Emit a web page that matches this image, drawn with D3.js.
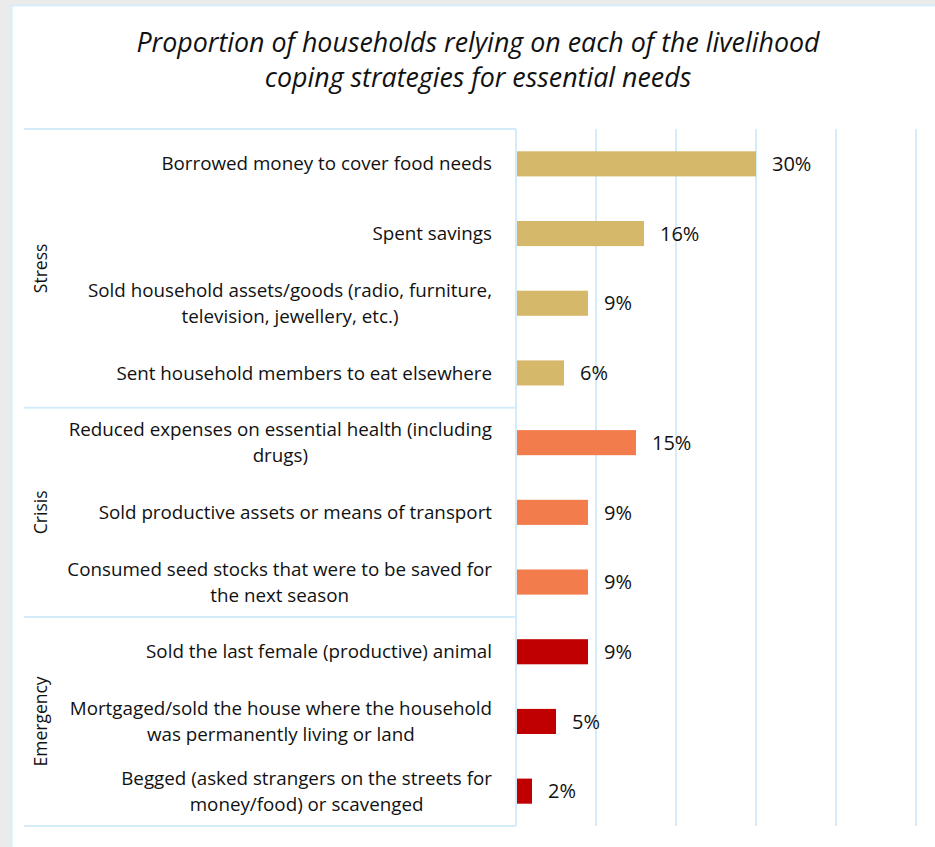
<!DOCTYPE html>
<html>
<head>
<meta charset="utf-8">
<script src="https://cdn.jsdelivr.net/npm/d3@7"></script>
<style>
  html, body { margin: 0; padding: 0; background: #ebebeb; }
  svg { display: block; }
</style>
</head>
<body>
<svg id="chart" width="935" height="847"></svg>
<script>
// Coping strategies, grouped by severity, with the share of households using each
const groups = ["Stress", "Crisis", "Emergency"];
const strategyLines = [
  ["Borrowed money to cover food needs"],
  ["Spent savings"],
  ["Sold household assets/goods (radio, furniture,", "television, jewellery, etc.)"],
  ["Sent household members to eat elsewhere"],
  ["Reduced expenses on essential health (including", "drugs)"],
  ["Sold productive assets or means of transport"],
  ["Consumed seed stocks that were to be saved for", "the next season"],
  ["Sold the last female (productive) animal"],
  ["Mortgaged/sold the house where the household", "was permanently living or land"],
  ["Begged (asked strangers on the streets for", "money/food) or scavenged"]
];
const strategyGroup = ["Stress", "Stress", "Stress", "Stress", "Crisis", "Crisis", "Crisis", "Emergency", "Emergency", "Emergency"];
const shares = [30, 16, 9, 6, 15, 9, 9, 9, 5, 2];
const xTicks = [0, 10, 20, 30, 40, 50];
const groupColors = ["#d5b869", "#f27c4b", "#c00000"];

const svg = d3.select("#chart");
const font = "'Open Sans', sans-serif";

// panel
svg.append("rect")
  .attr("x", 11.5).attr("y", 5.5).attr("width", 935).attr("height", 860)
  .attr("fill", "#ffffff").attr("stroke", "#d6effc").attr("stroke-width", 2);

// title
const title = svg.append("text")
  .attr("text-anchor", "middle")
  .attr("font-family", font).attr("font-style", "italic")
  .attr("font-size", 26.8).attr("fill", "#111");
title.append("tspan").attr("x", 478).attr("y", 52).text("Proportion of households relying on each of the livelihood");
title.append("tspan").attr("x", 478).attr("y", 87).text("coping strategies for essential needs");

const ids = d3.range(shares.length);
const x = d3.scaleLinear().domain([0, 50]).range([516, 916]);
const y = d3.scaleBand().domain(ids).range([129, 826]).paddingInner(0.64).paddingOuter(0.32);
const color = d3.scaleOrdinal().domain(groups).range(groupColors);
const gridColor = "#d4ecfa";

// vertical gridlines
svg.append("g")
  .selectAll("line").data(xTicks).join("line")
  .attr("x1", d => x(d)).attr("x2", d => x(d))
  .attr("y1", 129).attr("y2", 826)
  .attr("stroke", gridColor).attr("stroke-width", 2);

// group separators of the category table
const groupBounds = [0];
groups.forEach(g => groupBounds.push(groupBounds[groupBounds.length - 1] + strategyGroup.filter(s => s === g).length));
const yEdge = i => 129 + i * y.step();
svg.append("g")
  .selectAll("line").data(groupBounds).join("line")
  .attr("x1", 24).attr("x2", x(0))
  .attr("y1", d => yEdge(d)).attr("y2", d => yEdge(d))
  .attr("stroke", gridColor).attr("stroke-width", 2);

// bars
svg.append("g")
  .selectAll("rect").data(ids).join("rect")
  .attr("x", x(0) + 1)
  .attr("y", i => y(i))
  .attr("width", i => x(shares[i]) - x(0) - 1)
  .attr("height", y.bandwidth())
  .attr("fill", i => color(strategyGroup[i]));

// value labels
svg.append("g")
  .selectAll("text").data(ids).join("text")
  .attr("x", i => x(shares[i]) + 16)
  .attr("y", i => y(i) + y.bandwidth() / 2)
  .attr("dy", "0.36em")
  .attr("font-family", font).attr("font-size", 20).attr("fill", "#111")
  .text(i => shares[i] + "%");

// category labels, multi-line ones centred on their own block
const lineH = 26;
const labels = svg.append("g")
  .selectAll("text").data(ids).join("text")
  .attr("font-family", font).attr("font-size", 18.8).attr("fill", "#111");
labels.each(function (i) {
  const t = d3.select(this);
  const lines = strategyLines[i];
  const cy = y(i) + y.bandwidth() / 2;
  const y0 = cy - (lines.length - 1) * lineH / 2;
  lines.forEach((ln, k) => {
    t.append("tspan").attr("y", y0 + k * lineH).attr("dy", "0.35em").text(ln);
  });
});
labels.each(function (i) {
  const spans = d3.select(this).selectAll("tspan");
  const widths = spans.nodes().map(n => n.getComputedTextLength());
  const w = d3.max(widths);
  const right = 492;
  const center = right - w / 2;
  spans.attr("x", center).attr("text-anchor", "middle");
});

// group labels, rotated
svg.append("g")
  .selectAll("text").data(groups).join("text")
  .attr("transform", (g, k) => {
    const cy = (yEdge(groupBounds[k]) + yEdge(groupBounds[k + 1])) / 2;
    return `translate(41,${cy}) rotate(-90)`;
  })
  .attr("text-anchor", "middle").attr("dy", "0.35em")
  .attr("font-family", font).attr("font-size", 17.5).attr("fill", "#111")
  .text(g => g);
</script>
</body>
</html>
